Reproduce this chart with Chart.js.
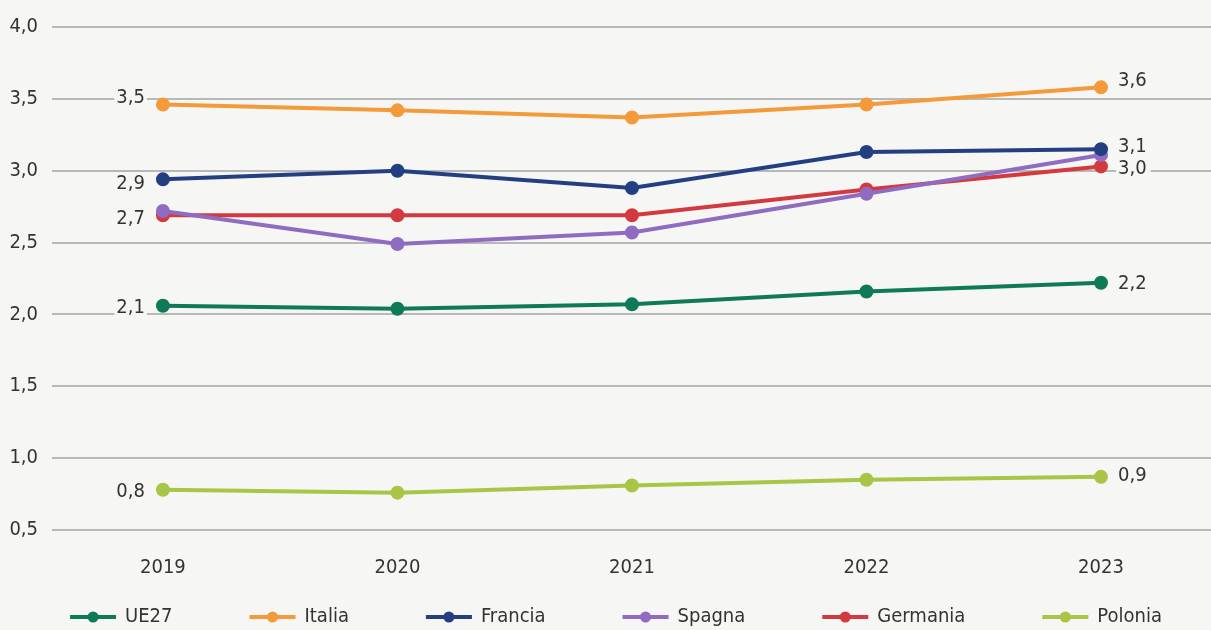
<!DOCTYPE html>
<html>
<head>
<meta charset="utf-8">
<script src="https://cdn.jsdelivr.net/npm/chart.js@4/dist/chart.umd.min.js"></script>
<style>
  html, body { margin: 0; padding: 0; background: #f6f6f4; }
  #wrap { width: 1211px; height: 630px; }
</style>
</head>
<body>
<div id="wrap"><canvas id="chart" width="1211" height="630"></canvas></div>
<script>
// Data
const years = [2019, 2020, 2021, 2022, 2023];
const yTicks = [0.5, 1.0, 1.5, 2.0, 2.5, 3.0, 3.5, 4.0];

const ue27     = [2.06, 2.04, 2.07, 2.16, 2.22];
const italia   = [3.46, 3.42, 3.37, 3.46, 3.58];
const francia  = [2.94, 3.00, 2.88, 3.13, 3.15];
const spagna   = [2.72, 2.49, 2.57, 2.84, 3.11];
const germania = [2.69, 2.69, 2.69, 2.87, 3.03];
const polonia  = [0.78, 0.76, 0.81, 0.85, 0.87];

// labels printed at first / last point (null = none)
const startLabels = ['2,1', '3,5', '2,9', null, '2,7', '0,8'];
const endLabels   = ['2,2', '3,6', '3,1', null, '3,0', '0,9'];

const seriesNames = ['UE27', 'Italia', 'Francia', 'Spagna', 'Germania', 'Polonia'];
const seriesData = [ue27, italia, francia, spagna, germania, polonia];
const colors = ['#0f7a58', '#f39a3a', '#233f82', '#8f6cc2', '#d23a3f', '#a8c545'];

const FONT = "'DejaVu Sans Condensed', 'Liberation Sans Narrow', 'Roboto', sans-serif";
const FSIZE = 20;
const BG = '#f6f6f4';
const TEXT = '#333333';

// small offsets for the value labels (pixels)
const startDy = [2, -7, 4, 0, 4, 2];
const endDy   = [1, -7, -2, 0, 2, -1];

const datasets = seriesNames.map(function(name, i) {
    return {
        label: name,
        data: years.map(function(y, j) { return {x: y, y: seriesData[i][j]}; }),
        borderColor: colors[i],
        backgroundColor: colors[i],
        borderWidth: 4,
        pointRadius: 5,
        pointHoverRadius: 5,
        tension: 0
    };
});

// draw the end value labels
const valueLabels = {
    id: 'valueLabels',
    afterDatasetsDraw(chart) {
        const ctx = chart.ctx;
        ctx.save();
        ctx.font = FSIZE + 'px ' + FONT;
        ctx.textBaseline = 'middle';
        chart.data.datasets.forEach(function(ds, i) {
            const meta = chart.getDatasetMeta(i);
            const first = meta.data[0];
            const last = meta.data[meta.data.length - 1];
            if (startLabels[i]) {
                const w = ctx.measureText(startLabels[i]).width;
                const x = first.x - 18, y = first.y + startDy[i];
                ctx.fillStyle = BG;
                ctx.fillRect(x - w - 2, y - 8, w + 4, 16);
                ctx.fillStyle = TEXT;
                ctx.textAlign = 'right';
                ctx.fillText(startLabels[i], x, y);
            }
            if (endLabels[i]) {
                const w = ctx.measureText(endLabels[i]).width;
                const x = last.x + 17, y = last.y + endDy[i];
                ctx.fillStyle = BG;
                ctx.fillRect(x - 2, y - 8, w + 6, 16);
                ctx.fillStyle = TEXT;
                ctx.textAlign = 'left';
                ctx.fillText(endLabels[i], x, y);
            }
        });
        ctx.restore();
    }
};

// legend: line + dot symbols, one row at the bottom
const lineLegend = {
    id: 'lineLegend',
    afterDraw(chart) {
        const ctx = chart.ctx;
        const iconW = 46, gapText = 9, gapItem = 77, y = 617;
        ctx.save();
        ctx.font = FSIZE + 'px ' + FONT;
        ctx.textBaseline = 'middle';
        ctx.textAlign = 'left';
        const widths = chart.data.datasets.map(function(ds) {
            return iconW + gapText + ctx.measureText(ds.label).width;
        });
        const total = widths.reduce(function(a, b) { return a + b; }, 0) + gapItem * (widths.length - 1);
        let x = 616 - total / 2;
        chart.data.datasets.forEach(function(ds, i) {
            ctx.strokeStyle = ds.borderColor;
            ctx.fillStyle = ds.borderColor;
            ctx.lineWidth = 4;
            ctx.beginPath(); ctx.moveTo(x, y); ctx.lineTo(x + iconW, y); ctx.stroke();
            ctx.beginPath(); ctx.arc(x + iconW / 2, y, 5.5, 0, Math.PI * 2); ctx.fill();
            ctx.fillStyle = TEXT;
            ctx.fillText(ds.label, x + iconW + gapText, y);
            x += widths[i] + gapItem;
        });
        ctx.restore();
    }
};

const bgPlugin = {
    id: 'bg',
    beforeDraw(chart) {
        const ctx = chart.ctx;
        ctx.save();
        ctx.fillStyle = BG;
        ctx.fillRect(0, 0, chart.width, chart.height);
        ctx.restore();
    }
};

new Chart(document.getElementById('chart'), {
    type: 'line',
    data: { datasets: datasets },
    options: {
        responsive: false,
        animation: false,
        layout: { autoPadding: false, padding: { top: 27, left: 0, right: 0, bottom: 40 } },
        scales: {
            x: {
                type: 'linear',
                min: 2018.527,
                max: 2023.469,
                grid: { display: false },
                border: { display: false },
                afterBuildTicks(axis) {
                    axis.ticks = years.map(function(y) { return {value: y}; });
                },
                afterFit(axis) { axis.height = 60; },
                ticks: {
                    padding: 18,
                    color: TEXT,
                    font: { family: FONT, size: FSIZE },
                    callback: function(v) { return String(v); }
                }
            },
            y: {
                min: 0.5,
                max: 4.0,
                afterBuildTicks(axis) {
                    axis.ticks = yTicks.map(function(v) { return {value: v}; });
                },
                afterFit(axis) { axis.width = 52; },
                grid: { color: '#b8b8b8', lineWidth: 2, drawTicks: false },
                border: { display: false },
                ticks: {
                    padding: 14,
                    color: TEXT,
                    font: { family: FONT, size: FSIZE },
                    callback: function(v) { return v.toFixed(1).replace('.', ','); }
                }
            }
        },
        plugins: {
            tooltip: { enabled: false },
            legend: { display: false }
        }
    },
    plugins: [bgPlugin, valueLabels, lineLegend]
});
</script>
</body>
</html>
